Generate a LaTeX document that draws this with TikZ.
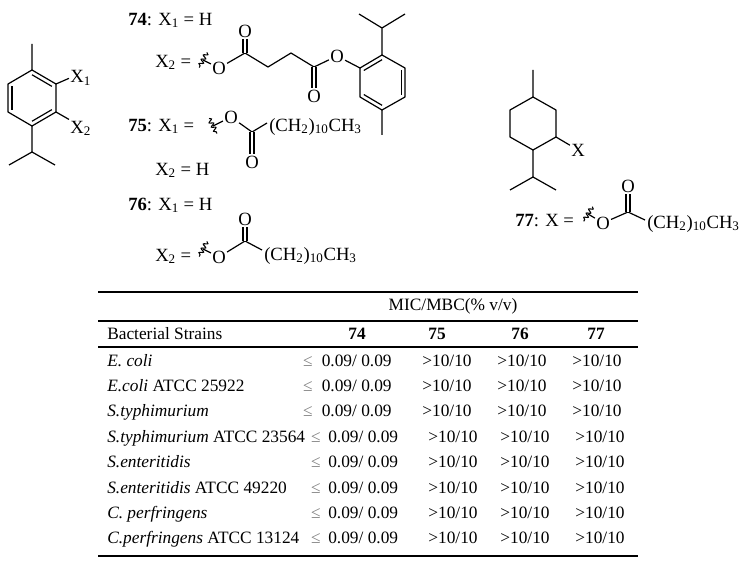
\documentclass[tikz,border=0pt]{standalone}
\usepackage{fontspec}
\setmainfont{Liberation Serif}
\usetikzlibrary{positioning,calc,decorations.pathmorphing}

% inner line of an aromatic double bond, drawn towards the ring centre
\newcommand\innerbond[3]{\draw[bond] ($(#1)!0.17!(#3)$) -- ($(#2)!0.17!(#3)$);}

\begin{document}
\begin{tikzpicture}[x=0.75pt,y=-0.75pt,
    every node/.style={font=\fontsize{13}{15}\selectfont},
    bond/.style={line width=0.9pt,line join=round},
    dbl/.style={line width=0.8pt,double,double distance=2.2pt},
    atom/.style={inner sep=0.8pt},
    txt/.style={anchor=mid west,inner sep=0pt},
    cell/.style={anchor=mid,inner sep=0pt},
    wavy/.style={line width=0.8pt,decorate,decoration={snake,amplitude=1.5pt,segment length=3.6pt}},
    rule/.style={line width=1.2pt}]

  \useasboundingbox (0,0) rectangle (754,567);

  \begin{scope}[every node/.append style={font=\fontsize{14}{16}\selectfont}]
  % core ring with X1, X2
  \coordinate (a1) at (32,70);
  \coordinate (a2) at (56,84);
  \coordinate (a3) at (56,112);
  \coordinate (a4) at (32,126);
  \coordinate (a5) at (8,112);
  \coordinate (a6) at (8,84);
  \coordinate (ac) at (32,98);
  \coordinate (me1) at (32,44);
  \coordinate (ip1) at (32,152);
  \coordinate (ip1a) at (9,165);
  \coordinate (ip1b) at (55,165);
  \node[atom,anchor=base west] (x1) at (69,83) {X\textsubscript{1}};
  \node[atom,anchor=base west] (x2) at (69,133) {X\textsubscript{2}};
  \draw[bond] (a1) -- (a2) -- (a3) -- (a4) -- (a5) -- (a6) -- cycle;
  \innerbond{a1}{a2}{ac} \innerbond{a3}{a4}{ac} \innerbond{a5}{a6}{ac}
  \draw[bond] (a1) -- (me1) (a2) -- (x1.west) (a3) -- (x2.north west)
    (a4) -- (ip1) (ip1a) -- (ip1) -- (ip1b);

  % 74
  \node[txt] (l74) at (128,22) {\textbf{74}: X\textsubscript{1} = H};
  \node[txt] (l74x) at (155,64) {X\textsubscript{2} =};
  \coordinate (w74) at (203,60);
  \coordinate (w74a) at (206.8,52.4);
  \coordinate (w74b) at (199.2,67.6);
  \node[atom] (o1) at (219,68) {O};
  \coordinate (c1) at (245,53);
  \node[atom] (o2) at (245,31) {O};
  \coordinate (c2) at (268,67);
  \coordinate (c3) at (291,53);
  \coordinate (c4) at (314,67);
  \node[atom] (o3) at (314,96) {O};
  \node[atom] (o4) at (337,56) {O};
  \coordinate (r1) at (360,68);
  \coordinate (r2) at (382,55);
  \coordinate (r3) at (405,68);
  \coordinate (r4) at (405,97);
  \coordinate (r5) at (382,110);
  \coordinate (r6) at (360,97);
  \coordinate (rc) at (382.5,82.5);
  \coordinate (ip2) at (382,28);
  \coordinate (ip2a) at (359,14);
  \coordinate (ip2b) at (405,14);
  \coordinate (me2) at (382,135);
  \draw[wavy] (w74a) -- (w74b);
  \draw[bond] (w74) -- (o1) -- (c1) -- (c2) -- (c3) -- (c4) -- (o4) -- (r1);
  \draw[dbl] (c1) -- (o2);
  \draw[dbl] (c4) -- (o3);
  \draw[bond] (r1) -- (r2) -- (r3) -- (r4) -- (r5) -- (r6) -- cycle;
  \innerbond{r1}{r2}{rc} \innerbond{r3}{r4}{rc} \innerbond{r5}{r6}{rc}
  \draw[bond] (r2) -- (ip2) (ip2a) -- (ip2) -- (ip2b) (r5) -- (me2);

  % 75
  \node[txt] (l75) at (128,128) {\textbf{75}: X\textsubscript{1} =};
  \coordinate (w75) at (213,126);
  \coordinate (w75a) at (209,118.5);
  \coordinate (w75b) at (217,133.5);
  \node[atom] (o5) at (231,117) {O};
  \coordinate (c5) at (252,132);
  \node[atom] (o6) at (252,162) {O};
  \coordinate (e75) at (267,123);
  \node[txt] (t75) at (269,128) {(CH\textsubscript{2})\textsubscript{10}CH\textsubscript{3}};
  \draw[wavy] (w75a) -- (w75b);
  \draw[bond] (w75) -- (o5) -- (c5) -- (e75);
  \draw[dbl] (c5) -- (o6);
  \node[txt] (l75x) at (155,172) {X\textsubscript{2} = H};

  % 76
  \node[txt] (l76) at (128,207) {\textbf{76}: X\textsubscript{1} = H};
  \node[txt] (l76x) at (155,258) {X\textsubscript{2} =};
  \coordinate (w76) at (203,249);
  \coordinate (w76a) at (206.8,241.4);
  \coordinate (w76b) at (199.2,256.6);
  \node[atom] (o7) at (219,257) {O};
  \coordinate (c7) at (245,241);
  \node[atom] (o8) at (245,219) {O};
  \coordinate (e76) at (262,250);
  \node[txt] (t76) at (264,257) {(CH\textsubscript{2})\textsubscript{10}CH\textsubscript{3}};
  \draw[wavy] (w76a) -- (w76b);
  \draw[bond] (w76) -- (o7) -- (c7) -- (e76);
  \draw[dbl] (c7) -- (o8);

  % 77
  \coordinate (m1) at (533,97);
  \coordinate (m2) at (556,110);
  \coordinate (m3) at (556,137);
  \coordinate (m4) at (533,150);
  \coordinate (m5) at (510,137);
  \coordinate (m6) at (510,110);
  \coordinate (me3) at (533,70);
  \coordinate (ip3) at (533,177);
  \coordinate (ip3a) at (510,190);
  \coordinate (ip3b) at (556,190);
  \node[atom] (xm) at (578,150) {X};
  \draw[bond] (m1) -- (m2) -- (m3) -- (m4) -- (m5) -- (m6) -- cycle;
  \draw[bond] (m1) -- (me3) (m3) -- (xm) (m4) -- (ip3) (ip3a) -- (ip3) -- (ip3b);
  \node[txt] (l77) at (515,223) {\textbf{77}: X =};
  \coordinate (w77) at (588,214);
  \coordinate (w77a) at (592.3,206.7);
  \coordinate (w77b) at (583.7,221.3);
  \node[atom] (o9) at (603,223) {O};
  \coordinate (c9) at (628,212);
  \node[atom] (o10) at (628,186) {O};
  \coordinate (e77) at (645,220);
  \node[txt] (t77) at (647,225) {(CH\textsubscript{2})\textsubscript{10}CH\textsubscript{3}};
  \draw[wavy] (w77a) -- (w77b);
  \draw[bond] (w77) -- (o9) -- (c9) -- (e77);
  \draw[dbl] (c9) -- (o10);
  \end{scope}

  % table
  \foreach \ry in {292,321,347,556}
    \draw[rule] (98,\ry) -- (638,\ry);
  \node[cell] (mic) at (453,307) {MIC/MBC(\% v/v)};
  \node[txt] (bs) at (107,336) {Bacterial Strains};
  \foreach \c/\x in {74/357,75/437,76/520,77/596}
    \node[cell] (h\c) at (\x,336) {\textbf{\c}};
  \foreach \nm [count=\i] in {\textit{E. coli}, {\textit{E.coli} ATCC 25922},
      \textit{S.typhimurium}, {\textit{S.typhimurium} ATCC 23564},
      \textit{S.enteritidis}, {\textit{S.enteritidis} ATCC 49220},
      \textit{C. perfringens}, {\textit{C.perfringens} ATCC 13124}}{
    \pgfmathsetmacro\ry{363+25.4*(\i-1)}
    \pgfmathsetmacro\dx{\i>3 ? 1 : 0}
    \node[txt] (s\i) at (107,\ry) {\nm};
    \node[cell,text=gray] (le\i) at (308+8*\dx,\ry) {≤};
    \node[txt] (v\i) at (321.5+6.5*\dx,\ry) {0.09/ 0.09};
    \node[cell] (p\i) at (447+6*\dx,\ry) {>10/10};
    \node[cell] (q\i) at (522+3*\dx,\ry) {>10/10};
    \node[cell] (u\i) at (597+3*\dx,\ry) {>10/10};
  }
\end{tikzpicture}
\end{document}
